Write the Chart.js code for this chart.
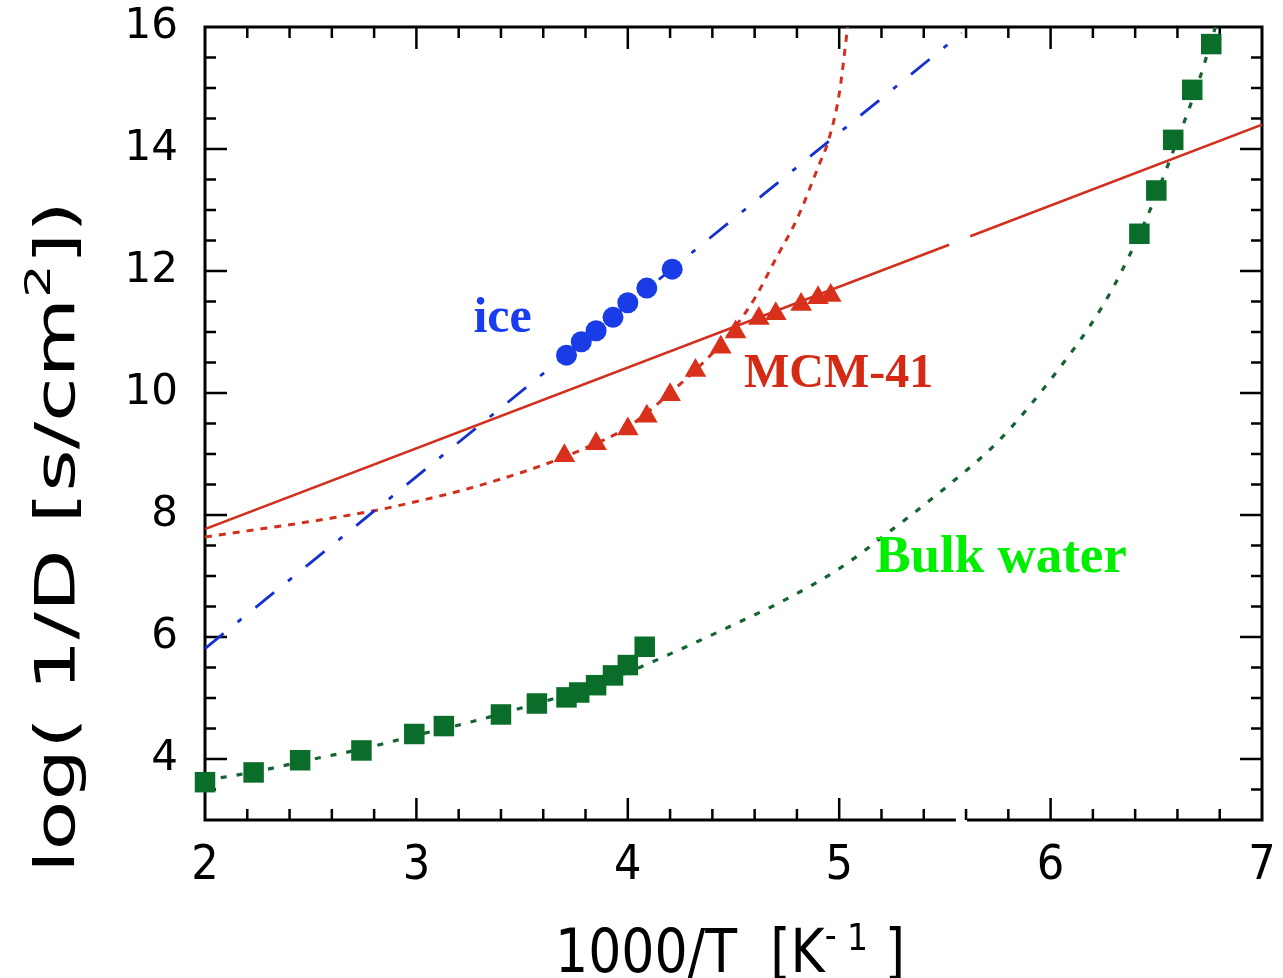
<!DOCTYPE html>
<html>
<head>
<meta charset="utf-8">
<title>log(1/D) x 1000/T</title>
<script src="https://cdn.jsdelivr.net/npm/chart.js@4.4.1/dist/chart.umd.min.js"></script>
<style>
  html, body { margin: 0; padding: 0; background: #fff; }
  #caixa { width: 1283px; height: 978px; }
</style>
</head>
<body>
<div id="caixa"><canvas id="grafico"></canvas></div>
<script>
// --- Dados ---

// Eixos
const xTicks = [2, 3, 4, 5, 6, 7];
const yTicks = [4, 6, 8, 10, 12, 14, 16];

// Gelo (círculos) e reta ajustada
const iceX = [3.71, 3.78, 3.85, 3.93, 4.00, 4.09, 4.21];
const iceY = [10.62, 10.84, 11.02, 11.24, 11.48, 11.72, 12.03];
const iceFitX = [2.00, 5.58];
const iceFitY = [5.81, 15.90];

// MCM-41 (triângulos)
const mcmX = [3.70, 3.85, 4.00, 4.09, 4.20, 4.32, 4.44, 4.51, 4.62, 4.70, 4.82, 4.90, 4.96];
const mcmY = [8.97, 9.17, 9.41, 9.62, 9.97, 10.37, 10.75, 11.00, 11.22, 11.30, 11.45, 11.56, 11.60];

// Reta contínua do MCM-41 (null = corte do eixo)
const mcmLineX = [2.00, 5.52, 5.57, 5.62, 7.00];
const mcmLineY = [7.77, 12.43, null, 12.57, 14.40];

// Curva pontilhada do MCM-41
const mcmFitX = [2.0, 2.2, 2.4, 2.6, 2.8, 3.0, 3.2, 3.4, 3.6, 3.8, 4.0, 4.2, 4.4, 4.5, 4.6, 4.7, 4.8, 4.9, 4.95, 5.0, 5.04];
const mcmFitY = [7.64, 7.74, 7.84, 7.95, 8.07, 8.22, 8.39, 8.59, 8.82, 9.10, 9.44, 10.00, 10.65, 11.05, 11.55, 12.20, 12.85, 13.70, 14.15, 14.90, 16.00];

// Água bulk (quadrados)
const bulkX = [2.00, 2.23, 2.45, 2.74, 2.99, 3.13, 3.40, 3.57, 3.71, 3.77, 3.85, 3.93, 4.00, 4.08, 6.42, 6.50, 6.58, 6.67, 6.76];
const bulkY = [3.62, 3.78, 3.98, 4.14, 4.41, 4.54, 4.73, 4.91, 5.01, 5.09, 5.21, 5.37, 5.54, 5.84, 12.61, 13.32, 14.15, 14.97, 15.72];

// Curva pontilhada da água bulk
const bulkFitX = [2.00, 2.25, 2.50, 2.75, 3.00, 3.25, 3.50, 3.75, 4.00, 4.25, 4.50, 4.75, 5.00, 5.25, 5.50, 5.75, 6.00, 6.25, 6.40, 6.50, 6.60, 6.70, 6.78];
const bulkFitY = [3.65, 3.80, 3.99, 4.17, 4.39, 4.60, 4.84, 5.10, 5.42, 5.80, 6.20, 6.62, 7.12, 7.76, 8.44, 9.20, 10.22, 11.45, 12.45, 13.25, 14.15, 15.10, 16.00];

// --- Funções auxiliares ---

const pontos = (xs, ys) => xs.map((x, i) => ({ x: x, y: ys[i] }));

const NARROW = "'Liberation Sans Narrow', 'DejaVu Sans Condensed', 'Liberation Sans', sans-serif";
const SERIF = "'Liberation Serif', 'DejaVu Serif', serif";

// Desenha um texto com partes sobrescritas, centrado em (0,0) e comprimido até a largura pedida
function desenharPartes(ctx, partes, larguraAlvo) {
    let total = 0;
    partes.forEach(p => {
        ctx.font = p.font;
        p.w = ctx.measureText(p.t).width;
        total += p.w;
    });
    ctx.scale(larguraAlvo / total, 1);
    let cx = -total / 2;
    partes.forEach(p => {
        ctx.font = p.font;
        ctx.fillText(p.t, cx, -(p.sobe || 0));
        cx += p.w;
    });
}

// Moldura com marcas para dentro nos quatro lados e o corte no eixo de baixo
const moldura = {
    id: 'moldura',
    beforeDatasetsDraw(chart) {
        const { ctx, chartArea: a, scales: { x, y } } = chart;
        const c0 = x.getPixelForValue(5.545);
        const c1 = x.getPixelForValue(5.612);
        ctx.save();
        ctx.strokeStyle = '#000';
        ctx.lineWidth = 3;
        ctx.lineCap = 'square';
        ctx.beginPath();
        ctx.moveTo(c0, a.bottom);
        ctx.lineTo(a.left, a.bottom);
        ctx.lineTo(a.left, a.top);
        ctx.lineTo(a.right, a.top);
        ctx.lineTo(a.right, a.bottom);
        ctx.lineTo(c1, a.bottom);
        ctx.stroke();

        ctx.lineWidth = 2.5;
        ctx.lineCap = 'butt';
        ctx.beginPath();
        for (let k = 1; k < 25; k++) {
            const px = x.getPixelForValue(2 + k * 0.2);
            const len = k % 5 === 0 ? 22 : 11;
            ctx.moveTo(px, a.bottom); ctx.lineTo(px, a.bottom - len);
            ctx.moveTo(px, a.top); ctx.lineTo(px, a.top + len);
        }
        for (let k = 1; k < 26; k++) {
            const v = 3 + k * 0.5;
            const py = y.getPixelForValue(v);
            const len = v % 2 === 0 ? 22 : 11;
            ctx.moveTo(a.left, py); ctx.lineTo(a.left + len, py);
            ctx.moveTo(a.right, py); ctx.lineTo(a.right - len, py);
        }
        ctx.stroke();
        ctx.restore();
    }
};

// Nomes das curvas e títulos dos eixos
const anotacoes = [
    { texto: 'ice', x: 3.27, y: 11.0, cor: '#1a3cf0', tam: 50 },
    { texto: 'MCM-41', x: 4.55, y: 10.10, cor: '#d42a14', tam: 48 },
    { texto: 'Bulk water', x: 5.17, y: 7.07, cor: '#00ee00', tam: 53 }
];

const textos = {
    id: 'textos',
    afterDatasetsDraw(chart) {
        const { ctx, scales: { x, y } } = chart;
        ctx.save();
        ctx.textAlign = 'left';
        ctx.textBaseline = 'alphabetic';
        anotacoes.forEach(a => {
            ctx.fillStyle = a.cor;
            ctx.font = `bold ${a.tam}px ${SERIF}`;
            ctx.fillText(a.texto, x.getPixelForValue(a.x), y.getPixelForValue(a.y));
        });

        ctx.fillStyle = '#000';
        // título do eixo x
        ctx.save();
        ctx.translate(730, 972);
        desenharPartes(ctx, [
            { t: '1000/T  [K', font: `60px ${NARROW}` },
            { t: '-', font: `38px ${NARROW}`, sobe: 24 },
            { t: ' 1', font: `38px ${NARROW}`, sobe: 22 },
            { t: ' ]', font: `60px ${NARROW}` }
        ], 350);
        ctx.restore();

        // título do eixo y
        ctx.save();
        ctx.translate(74, 537);
        ctx.rotate(-Math.PI / 2);
        desenharPartes(ctx, [
            { t: 'log( 1/D [s/cm', font: `56px ${NARROW}` },
            { t: '2', font: `36px ${NARROW}`, sobe: 24 },
            { t: '])', font: `56px ${NARROW}` }
        ], 672);
        ctx.restore();
        ctx.restore();
    }
};

// --- Gráfico ---
const ctx = document.getElementById('grafico').getContext('2d');

new Chart(ctx, {
    type: 'scatter',
    data: {
        datasets: [
            {
                label: 'ice',
                data: pontos(iceX, iceY),
                pointStyle: 'circle',
                pointRadius: 10.5,
                pointBorderWidth: 0,
                backgroundColor: '#1a3ce6',
                clip: false
            },
            {
                label: 'MCM-41',
                data: pontos(mcmX, mcmY),
                pointStyle: 'triangle',
                pointRadius: 12.5,
                pointBorderWidth: 0,
                backgroundColor: '#d8301a',
                clip: false
            },
            {
                label: 'Bulk water',
                data: pontos(bulkX, bulkY),
                pointStyle: 'rect',
                pointRadius: 14.5,
                pointBorderWidth: 0,
                backgroundColor: '#0a6e2a',
                clip: false
            },
            {
                label: 'ice fit',
                data: pontos(iceFitX, iceFitY),
                showLine: true,
                pointRadius: 0,
                borderColor: '#1430d0',
                borderWidth: 2.8,
                borderDash: [24, 18, 5, 18]
            },
            {
                label: 'MCM-41 line',
                data: pontos(mcmLineX, mcmLineY),
                showLine: true,
                spanGaps: false,
                pointRadius: 0,
                borderColor: '#d2301e',
                borderWidth: 2.6
            },
            {
                label: 'MCM-41 fit',
                data: pontos(mcmFitX, mcmFitY),
                showLine: true,
                cubicInterpolationMode: 'monotone',
                pointRadius: 0,
                borderColor: '#d2301e',
                borderWidth: 3,
                borderDash: [7, 7]
            },
            {
                label: 'Bulk water fit',
                data: pontos(bulkFitX, bulkFitY),
                showLine: true,
                cubicInterpolationMode: 'monotone',
                pointRadius: 0,
                borderColor: '#146432',
                borderWidth: 3.2,
                borderDash: [6, 10]
            }
        ]
    },
    options: {
        responsive: true,
        maintainAspectRatio: false,
        animation: false,
        events: [],
        layout: { padding: { top: 27, right: 21, left: 0, bottom: 0 } },
        plugins: {
            legend: { display: false },
            tooltip: { enabled: false }
        },
        scales: {
            x: {
                type: 'linear',
                min: 2,
                max: 7,
                grid: { display: false, drawTicks: false },
                border: { display: false },
                afterBuildTicks: s => { s.ticks = xTicks.map(v => ({ value: v })); },
                // altura fixa e sem folga extra para os rótulos das pontas
                afterFit: s => { s.height = 158; s.paddingLeft = 0; s.paddingRight = 0; },
                ticks: {
                    padding: 18,
                    color: '#000',
                    font: { family: NARROW, size: 48 }
                }
            },
            y: {
                type: 'linear',
                min: 3,
                max: 16,
                grid: { display: false, drawTicks: false },
                border: { display: false },
                afterBuildTicks: s => { s.ticks = yTicks.map(v => ({ value: v })); },
                afterFit: s => { s.width = 205; s.paddingTop = 0; s.paddingBottom = 0; },
                ticks: {
                    padding: 27,
                    color: '#000',
                    font: { family: "'DejaVu Sans', sans-serif", size: 42 }
                }
            }
        }
    },
    plugins: [moldura, textos]
});
</script>
</body>
</html>
